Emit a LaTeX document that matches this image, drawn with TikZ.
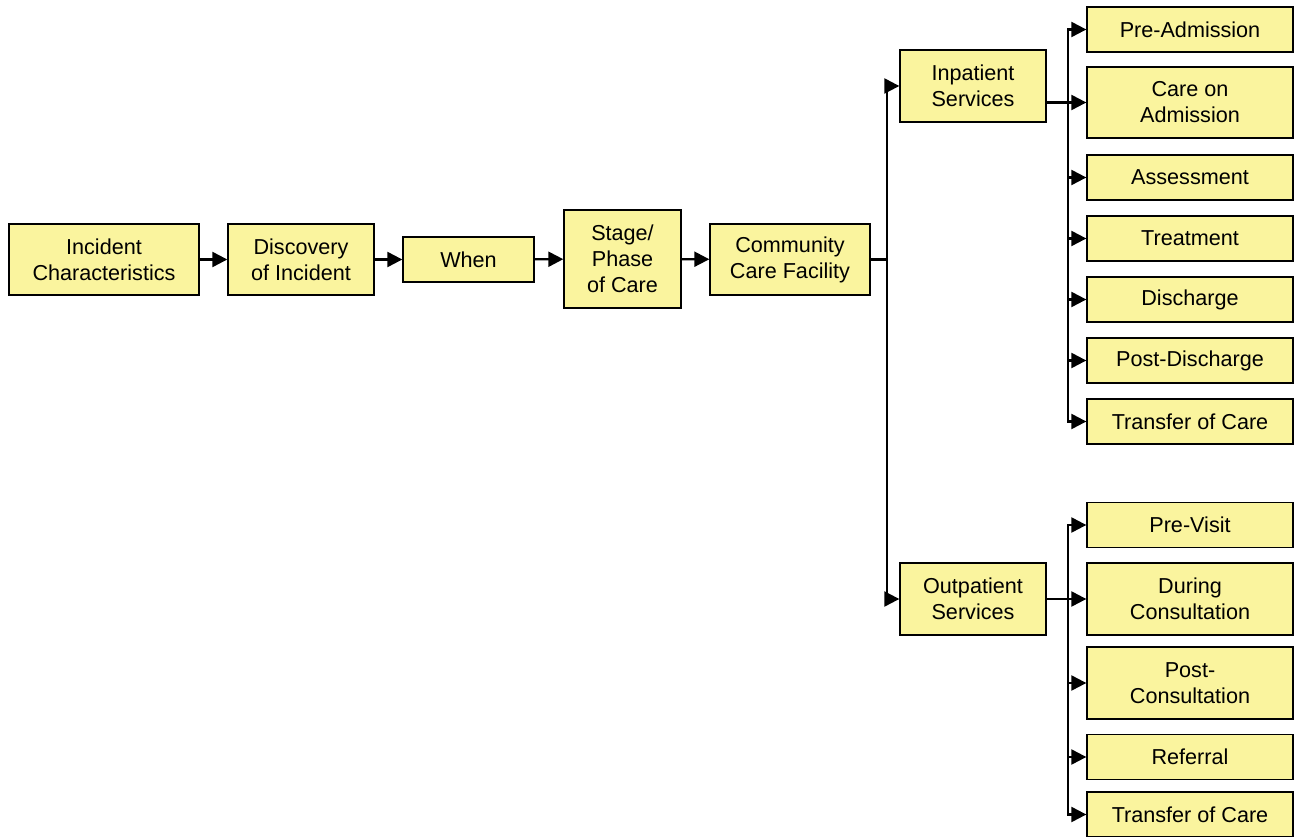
\documentclass[tikz,border=0pt]{standalone}
\usepackage{fontspec}
\setmainfont{Liberation Sans}
\usetikzlibrary{arrows.meta,positioning}
\definecolor{boxyellow}{RGB}{250,244,158}

\tikzset{
  box/.style={draw=black, line width=0.8pt, fill=boxyellow, align=center,
    inner sep=0pt, minimum height=1.42cm,
    font=\fontsize{12.3}{14.8}\selectfont},
  link/.style={line width=1.3pt},
  arr/.style={line width=1.3pt, -{Triangle[length=8.5pt,width=8.5pt]}}
}

\begin{document}
\begin{tikzpicture}[x=0.02cm, y=-0.02cm]
  \useasboundingbox (0,0) rectangle (1294,837);
  % main chain
  \node[box, minimum width=3.8cm] (ic) at (104,259.5) {Incident\\Characteristics};
  \node[box, minimum width=2.92cm] (doi) at (301,259.5) {Discovery\\of Incident};
  \node[box, minimum width=2.62cm, minimum height=0.9cm] (when) at (468.5,259.5) {When};
  \node[box, minimum width=2.34cm, minimum height=1.96cm] (stage) at (622.5,259) {Stage/\\Phase\\of Care};
  \node[box, minimum width=3.2cm] (ccf) at (790,259.5) {Community\\Care Facility};
  \draw[arr] (ic) -- (doi);
  \draw[arr] (doi) -- (when);
  \draw[arr] (when) -- (stage);
  \draw[arr] (stage) -- (ccf);
  % services
  \node[box, minimum width=2.92cm, minimum height=1.44cm] (inp) at (973,86) {Inpatient\\Services};
  \node[box, minimum width=2.92cm, minimum height=1.44cm] (outp) at (973,599) {Outpatient\\Services};
  \draw[link] (ccf.east) -- ++(16,0) coordinate (trunk);
  \draw[arr] (trunk) |- (inp.west);
  \draw[arr] (trunk) |- (outp.west);
  % inpatient stages
  \foreach \n/\y/\h/\txt in {preadm/29.5/0.9/Pre-Admission, careadm/102.5/1.42/Care on\\Admission,
      assess/177.5/0.9/Assessment, treat/238.5/0.9/Treatment, disch/299.5/0.9/Discharge,
      postdis/360.5/0.9/Post-Discharge, transin/421.5/0.9/Transfer of Care}
    \node[box, minimum width=4.12cm, minimum height=\h cm] (\n) at (1190,\y) {\txt};
  % outpatient stages
  \foreach \n/\y/\h/\txt in {previs/525/0.9/Pre-Visit, during/599/1.44/During\\Consultation,
      postcon/683/1.44/Post-\\Consultation, refer/757/0.9/Referral, transout/814.5/0.9/Transfer of Care}
    \node[box, minimum width=4.12cm, minimum height=\h cm] (\n) at (1190,\y) {\txt};
  \draw[link] (careadm.west -| inp.east) -- ++(21,0) coordinate (inbus);
  \foreach \n in {preadm,careadm,assess,treat,disch,postdis,transin}
    \draw[arr] (inbus) |- (\n.west);
  \draw[link] (outp.east) -- ++(21,0) coordinate (outbus);
  \foreach \n in {previs,during,postcon,refer,transout}
    \draw[arr] (outbus) |- (\n.west);
\end{tikzpicture}
\end{document}
